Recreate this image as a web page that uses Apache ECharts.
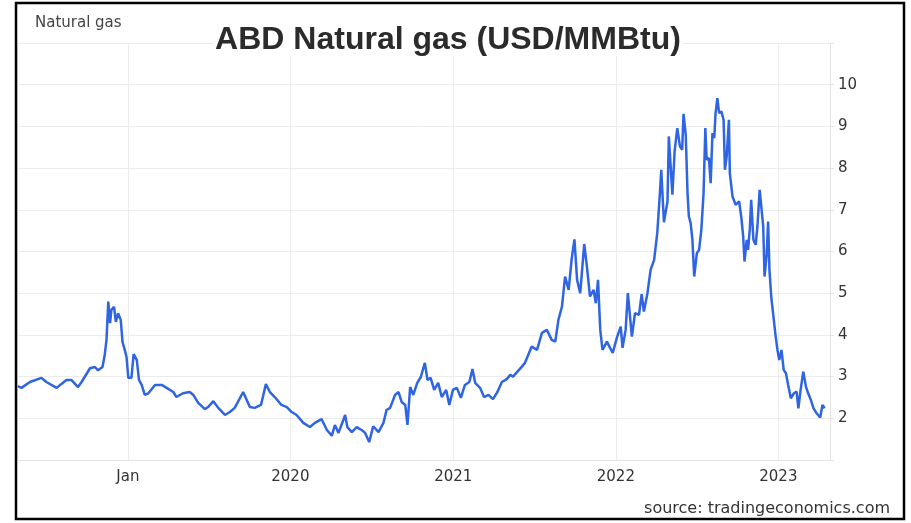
<!DOCTYPE html>
<html>
<head>
<meta charset="utf-8">
<script src="https://cdn.jsdelivr.net/npm/echarts@6.0.0/dist/echarts.min.js"></script>
<style>
html, body { margin: 0; padding: 0; background: #fff; }
#main { width: 911px; height: 523px; }
</style>
</head>
<body>
<div id="main"></div>
<script>
// daily price (USD/MMBtu)
var dates = [
	'2018-04-29','2018-05-07','2018-05-26','2018-06-21','2018-07-02','2018-07-25','2018-08-16','2018-08-27','2018-09-11','2018-09-19',
	'2018-10-08','2018-10-19','2018-10-26','2018-11-05','2018-11-10','2018-11-14','2018-11-18','2018-11-22','2018-11-25','2018-12-01',
	'2018-12-05','2018-12-10','2018-12-16','2018-12-20','2018-12-25','2018-12-29','2019-01-02','2019-01-09','2019-01-14','2019-01-21',
	'2019-01-26','2019-02-01','2019-02-08','2019-02-16','2019-03-03','2019-03-18','2019-03-29','2019-04-13','2019-04-20','2019-04-24',
	'2019-05-05','2019-05-20','2019-05-28','2019-06-08','2019-06-23','2019-06-30','2019-07-12','2019-07-23','2019-08-07','2019-08-18',
	'2019-08-29','2019-09-17','2019-10-02','2019-10-13','2019-10-27','2019-11-07','2019-11-16','2019-11-27','2019-12-12','2019-12-24',
	'2020-01-04','2020-01-15','2020-01-30','2020-02-14','2020-02-25','2020-03-11','2020-03-23','2020-04-03','2020-04-10','2020-04-18',
	'2020-04-29','2020-05-03','2020-05-08','2020-05-18','2020-05-29','2020-06-09','2020-06-17','2020-06-26','2020-07-05','2020-07-17',
	'2020-07-28','2020-08-04','2020-08-12','2020-08-23','2020-08-31','2020-09-07','2020-09-15','2020-09-20','2020-09-26','2020-10-03',
	'2020-10-12','2020-10-20','2020-10-29','2020-11-04','2020-11-11','2020-11-19','2020-11-28','2020-12-06','2020-12-16','2020-12-23',
	'2020-12-31','2021-01-09','2021-01-18','2021-01-27','2021-02-06','2021-02-13','2021-02-19','2021-03-02','2021-03-11','2021-03-21',
	'2021-03-31','2021-04-10','2021-04-20','2021-05-01','2021-05-09','2021-05-15','2021-06-04','2021-06-11','2021-06-26','2021-07-08',
	'2021-07-19','2021-07-30','2021-08-10','2021-08-18','2021-08-25','2021-09-02','2021-09-09','2021-09-17','2021-09-24','2021-09-30',
	'2021-10-06','2021-10-13','2021-10-22','2021-10-28','2021-11-04','2021-11-12','2021-11-17','2021-11-22','2021-11-27','2021-12-02',
	'2021-12-12','2021-12-19','2021-12-25','2022-01-04','2022-01-12','2022-01-16','2022-01-23','2022-01-28','2022-02-06','2022-02-13',
	'2022-02-22','2022-02-28','2022-03-05','2022-03-13','2022-03-20','2022-03-28','2022-04-04','2022-04-10','2022-04-13','2022-04-19',
	'2022-04-27','2022-04-30','2022-05-08','2022-05-13','2022-05-19','2022-05-25','2022-05-30','2022-06-02','2022-06-07','2022-06-11',
	'2022-06-14','2022-06-18','2022-06-22','2022-06-26','2022-07-02','2022-07-07','2022-07-12','2022-07-17','2022-07-21','2022-07-24',
	'2022-07-29','2022-08-02','2022-08-06','2022-08-10','2022-08-13','2022-08-17','2022-08-21','2022-08-26','2022-08-31','2022-09-03',
	'2022-09-07','2022-09-12','2022-09-14','2022-09-20','2022-09-27','2022-10-05','2022-10-10','2022-10-14','2022-10-17','2022-10-22',
	'2022-10-25','2022-10-29','2022-11-01','2022-11-06','2022-11-11','2022-11-15','2022-11-20','2022-11-24','2022-11-28','2022-12-01',
	'2022-12-06','2022-12-09','2022-12-12','2022-12-16','2022-12-21','2022-12-26','2022-12-30','2023-01-03','2023-01-08','2023-01-13',
	'2023-01-18','2023-01-23','2023-01-29','2023-02-05','2023-02-11','2023-02-15','2023-02-20','2023-02-26','2023-03-04','2023-03-09',
	'2023-03-15','2023-03-21','2023-03-28','2023-04-05','2023-04-10','2023-04-15'
];
var prices = [
	2.77,2.73,2.87,2.97,2.87,2.73,2.92,2.92,2.75,2.87,
	3.20,3.23,3.15,3.23,3.52,3.88,4.80,4.28,4.60,4.67,
	4.31,4.52,4.36,3.83,3.64,3.47,2.97,2.97,3.54,3.40,
	2.92,2.80,2.56,2.60,2.80,2.80,2.73,2.63,2.51,2.48,
	2.60,2.63,2.56,2.37,2.22,2.27,2.41,2.25,2.08,2.15,
	2.25,2.63,2.27,2.25,2.32,2.82,2.63,2.51,2.32,2.27,
	2.15,2.08,1.89,1.79,1.89,1.98,1.72,1.58,1.84,1.65,
	1.96,2.08,1.79,1.67,1.79,1.72,1.65,1.43,1.81,1.67,
	1.89,2.20,2.25,2.56,2.63,2.39,2.32,1.84,2.75,2.56,
	2.85,2.99,3.33,2.92,2.97,2.68,2.85,2.51,2.68,2.32,
	2.68,2.73,2.49,2.80,2.87,3.18,2.85,2.73,2.51,2.56,
	2.46,2.63,2.87,2.94,3.04,3.00,3.24,3.33,3.72,3.64,
	4.05,4.12,3.88,3.84,4.36,4.68,5.40,5.08,5.84,6.29,
	5.32,5.00,6.18,5.64,4.92,5.08,4.76,5.32,4.12,3.64,
	3.84,3.69,3.57,3.96,4.20,3.69,4.12,5.00,3.96,4.52,
	4.48,4.98,4.56,5.00,5.56,5.80,6.44,7.40,7.96,6.70,
	7.20,8.76,7.36,8.40,8.96,8.52,8.44,9.30,8.80,7.40,
	6.84,6.68,6.28,5.40,5.96,6.04,6.52,7.40,8.96,8.20,
	8.24,7.64,8.84,8.72,9.32,9.68,9.32,9.36,9.16,7.96,
	8.28,9.16,7.88,7.32,7.12,7.20,6.80,6.36,5.76,6.28,
	6.04,6.56,7.24,6.28,6.16,6.60,7.48,7.04,6.60,5.40,
	5.96,6.72,5.56,4.92,4.44,3.96,3.64,3.40,3.64,3.16,
	3.08,2.80,2.48,2.60,2.64,2.24,2.68,3.12,2.76,2.60,
	2.44,2.24,2.12,2.02,2.32,2.24
];

var seriesData = [];
for (var i = 0; i < dates.length; i++) {
	seriesData.push([dates[i], prices[i]]);
}

var myChart = echarts.init(document.getElementById('main'));

var option = {
	backgroundColor : '#fff',
	animation : false,
	grid : {
		left : 17,
		right : 81,
		top : 43,
		bottom : 63,
		outerBoundsMode : 'none'
	},
	graphic : [ {
		type : 'rect',
		shape : { x : 16, y : 3, width : 888, height : 516 },
		style : { fill : 'none', stroke : '#000', lineWidth : 2.5 },
		z : 100
	}, {
		type : 'text',
		x : 35,
		y : 23,
		style : {
			text : 'Natural gas',
			font : '15px "DejaVu Sans"',
			fill : '#444',
			textVerticalAlign : 'middle'
		}
	}, {
		type : 'text',
		x : 448,
		y : 40,
		z : 50,
		style : {
			text : 'ABD Natural gas (USD/MMBtu)',
			font : 'bold 32px "Liberation Sans"',
			fill : '#2b2b2b',
			backgroundColor : '#fff',
			padding : [ 0, 2 ],
			textAlign : 'center',
			textVerticalAlign : 'middle'
		}
	}, {
		type : 'text',
		x : 890,
		y : 509,
		style : {
			text : 'source: tradingeconomics.com',
			font : '16px "DejaVu Sans"',
			fill : '#333',
			textAlign : 'right',
			textVerticalAlign : 'middle'
		}
	} ],
	xAxis : {
		type : 'time',
		min : '2018-04-27',
		max : '2023-04-27',
		splitNumber : 5,
		axisLine : { show : true, lineStyle : { color : '#e4e4e4' } },
		axisTick : { show : false },
		splitLine : { show : true, lineStyle : { color : '#ececec' } },
		axisLabel : {
			showMinLabel : false,
			showMaxLabel : false,
			margin : 10,
			color : '#333',
			fontFamily : 'DejaVu Sans',
			fontSize : 15,
			formatter : function(val) {
				var d = new Date(val);
				if (d.getMonth() !== 0 || d.getDate() !== 1) return '';
				return d.getFullYear() === 2019 ? 'Jan' : String(d.getFullYear());
			}
		}
	},
	yAxis : {
		type : 'value',
		position : 'right',
		min : 1,
		max : 11,
		interval : 1,
		axisLine : { show : true, lineStyle : { color : '#e4e4e4' } },
		axisTick : { show : true, length : 4, lineStyle : { color : '#e4e4e4' } },
		splitLine : { show : true, lineStyle : { color : '#ececec' } },
		axisLabel : {
			margin : 8,
			color : '#333',
			fontFamily : 'DejaVu Sans',
			fontSize : 15,
			formatter : function(v) {
				return (v <= 1 || v >= 11) ? '' : v;
			}
		}
	},
	series : [ {
		name : 'Natural gas',
		type : 'line',
		data : seriesData,
		showSymbol : false,
		symbol : 'none',
		lineStyle : { color : '#2f64e2', width : 2.5 },
		itemStyle : { color : '#2f64e2' }
	} ]
};
myChart.setOption(option);
</script>
</body>
</html>
